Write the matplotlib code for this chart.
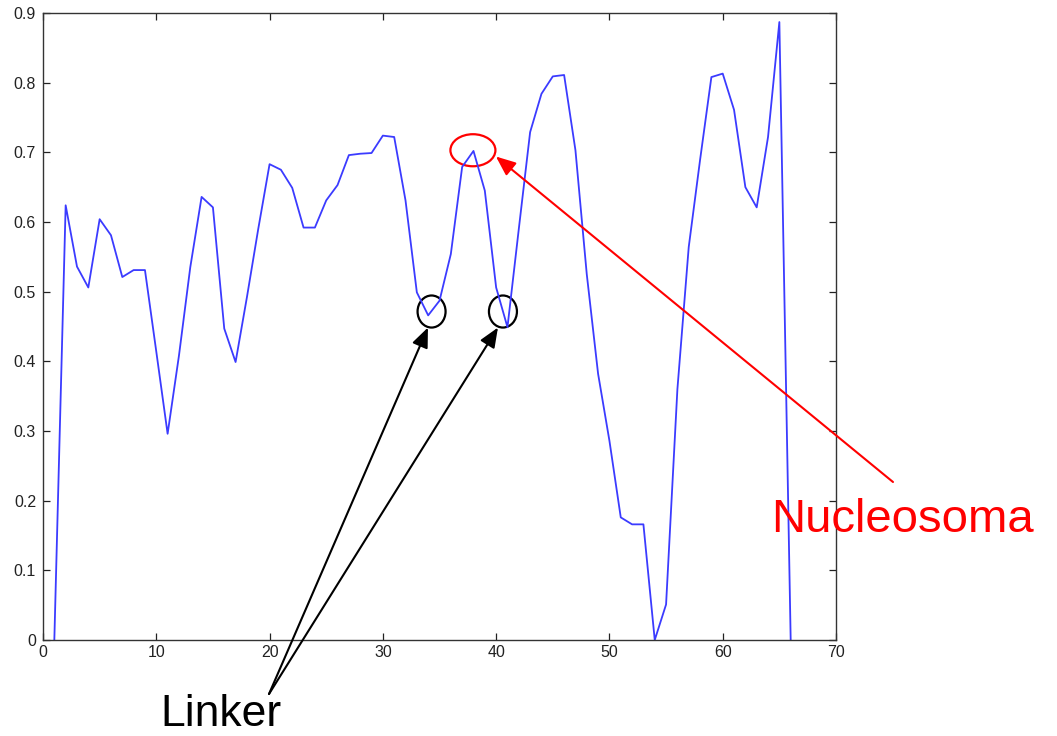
import matplotlib
matplotlib.use("Agg")
import matplotlib.pyplot as plt
from matplotlib.patches import Ellipse

plt.rcParams['font.family'] = ['Liberation Sans', 'DejaVu Sans']

# ---- data ----
positions = list(range(1, 67))
values = [0.0, 0.624, 0.536, 0.506, 0.604, 0.581, 0.521, 0.531, 0.531, 0.414,
          0.296, 0.408, 0.535, 0.636, 0.621, 0.447, 0.399, 0.492, 0.590, 0.683,
          0.675, 0.649, 0.592, 0.592, 0.631, 0.653, 0.696, 0.698, 0.699, 0.724,
          0.722, 0.631, 0.499, 0.466, 0.487, 0.554, 0.679, 0.702, 0.645, 0.506,
          0.449, 0.590, 0.729, 0.784, 0.809, 0.811, 0.703, 0.525, 0.382, 0.286,
          0.176, 0.166, 0.166, 0.0, 0.051, 0.360, 0.564, 0.689, 0.808, 0.813,
          0.761, 0.650, 0.621, 0.722, 0.887, 0.0]
x_ticks = [0, 10, 20, 30, 40, 50, 60, 70]
y_ticks = [0, 0.1, 0.2, 0.3, 0.4, 0.5, 0.6, 0.7, 0.8, 0.9]
y_ticklabels = ["0", "0.1", "0.2", "0.3", "0.4", "0.5", "0.6", "0.7", "0.8", "0.9"]

linker_points = [(34.3, 0.4715), (40.6, 0.4715)]
linker_tips = [(33.98, 0.4485), (40.16, 0.4485)]
nucleosome_point = (37.95, 0.703)
nucleosome_tip = (39.98, 0.694)

W, H = 1057, 736
fig = plt.figure(figsize=(W / 100, H / 100), dpi=100)
ax = fig.add_axes([43 / W, (H - 640) / H, (836 - 43) / W, (640 - 13) / H])

ax.plot(positions, values, color='#3b3bff', lw=1.3)

ax.set_xlim(0, 70)
ax.set_ylim(0, 0.9)
ax.set_xticks(x_ticks)
ax.set_yticks(y_ticks)
ax.set_yticklabels(y_ticklabels)
ax.tick_params(direction='in', length=5, width=0.9, top=True, right=True,
               labelsize=11.5, colors='#222222')
ax.tick_params(axis='x', pad=3.5)
ax.tick_params(axis='y', pad=5)
for s in ax.spines.values():
    s.set_linewidth(1.0)
    s.set_color('#333333')

# linker circles
for (cx, cy) in linker_points:
    ax.add_patch(Ellipse((cx, cy), 28 / 11.33, 32 / 695.6, fill=False,
                         edgecolor='black', lw=1.6, clip_on=False))
# nucleosome ellipse
ax.add_patch(Ellipse(nucleosome_point, 45 / 11.33, 32 / 695.6, fill=False,
                     edgecolor='red', lw=1.6, clip_on=False))

# linker arrows
for tip in linker_tips:
    ax.annotate('', xy=tip, xycoords='data',
                xytext=(269, H - 694), textcoords='figure pixels',
                arrowprops=dict(arrowstyle='-|>,head_length=1.2,head_width=0.5',
                                color='black', lw=1.5, shrinkA=0, shrinkB=0),
                annotation_clip=False)

# nucleosome arrow
ax.annotate('', xy=nucleosome_tip, xycoords='data',
            xytext=(893, H - 482), textcoords='figure pixels',
            arrowprops=dict(arrowstyle='-|>,head_length=1.2,head_width=0.5',
                            color='red', lw=1.5, shrinkA=0, shrinkB=0),
            annotation_clip=False)

fig.text(160 / W, (H - 726) / H, 'Linker', fontsize=32, color='black',
         ha='left', va='baseline')
fig.text(771 / W, (H - 531.5) / H, 'Nucleosoma', fontsize=34, color='red',
         ha='left', va='baseline')

fig.savefig('out.png', dpi=100)
